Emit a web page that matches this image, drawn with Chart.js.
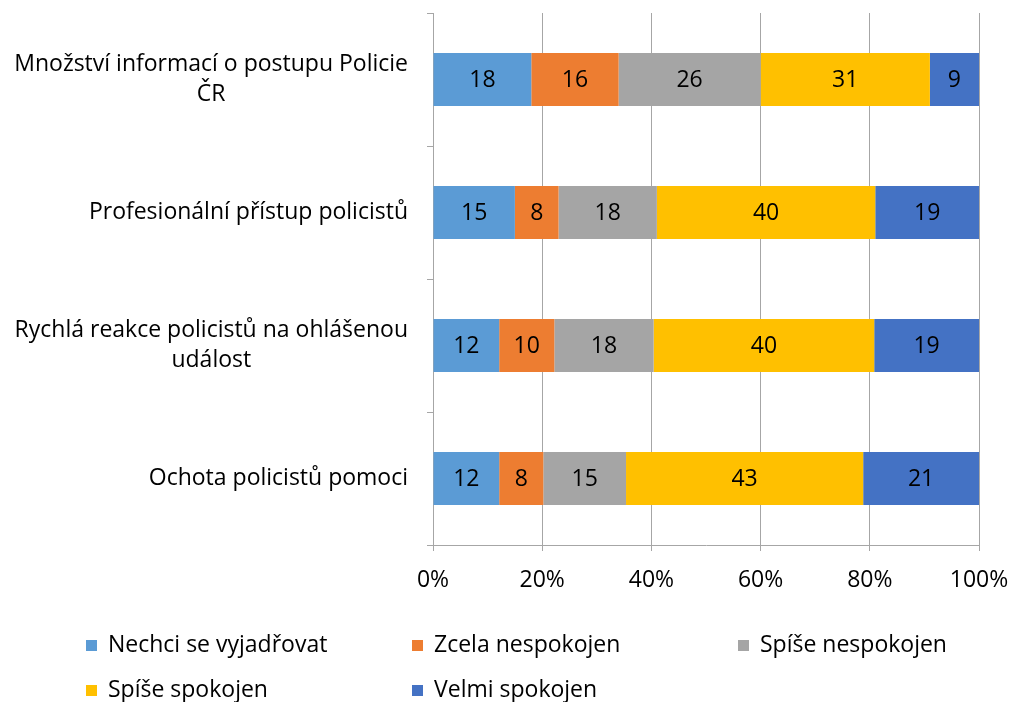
<!DOCTYPE html>
<html>
<head>
<meta charset="utf-8">
<script src="https://cdn.jsdelivr.net/npm/chart.js@4/dist/chart.umd.min.js"></script>
<style>
  html, body { margin: 0; padding: 0; background: #fff; }
  #wrap { width: 1011px; height: 702px; }
</style>
</head>
<body>
<div id="wrap"><canvas id="myChart" width="1011" height="702"></canvas></div>
<script>
// categories, top to bottom
const categories = [
    ['Množství informací o postupu Policie', 'ČR'],
    ['Profesionální přístup policistů'],
    ['Rychlá reakce policistů na ohlášenou', 'událost'],
    ['Ochota policistů pomoci']
];

const seriesNames = ['Nechci se vyjadřovat', 'Zcela nespokojen', 'Spíše nespokojen', 'Spíše spokojen', 'Velmi spokojen'];
const seriesColors = ['#5B9BD5', '#ED7D31', '#A5A5A5', '#FFC000', '#4472C4'];

// values as shown in the bars
const nechci = [18, 15, 12, 12];
const zcelaNespokojen = [16, 8, 10, 8];
const spiseNespokojen = [26, 18, 18, 15];
const spiseSpokojen = [31, 40, 40, 43];
const velmiSpokojen = [9, 19, 19, 21];

const tickValues = [0, 20, 40, 60, 80, 100];

const FONT = '"Open Sans", "Noto Sans", sans-serif';
const FONT_SIZE = 23;

const allSeries = [nechci, zcelaNespokojen, spiseNespokojen, spiseSpokojen, velmiSpokojen];
// 100% stacked: share of each row total
const totals = categories.map((c, i) => allSeries.reduce((s, arr) => s + arr[i], 0));

const datasets = allSeries.map((arr, k) => ({
    label: seriesNames[k],
    data: arr.map((v, i) => v / totals[i] * 100),
    raw: arr,
    backgroundColor: seriesColors[k],
    borderWidth: 0,
    barPercentage: 0.4,
    categoryPercentage: 1.0
}));

// value labels in the middle of each segment
const valueLabels = {
    id: 'valueLabels',
    afterDatasetsDraw(chart) {
        const ctx = chart.ctx;
        ctx.save();
        ctx.font = FONT_SIZE + 'px ' + FONT;
        ctx.fillStyle = '#000';
        ctx.textAlign = 'center';
        ctx.textBaseline = 'middle';
        chart.data.datasets.forEach((ds, k) => {
            chart.getDatasetMeta(k).data.forEach((bar, i) => {
                const p = bar.getCenterPoint();
                ctx.fillText(String(ds.raw[i]), p.x, p.y + 1);
            });
        });
        ctx.restore();
    }
};

// category labels: block right aligned, lines centred inside the block
const catLabels = {
    id: 'catLabels',
    afterDraw(chart) {
        const ctx = chart.ctx;
        const yScale = chart.scales.y;
        const rightEdge = chart.chartArea.left - 25;
        const lineH = 30;
        ctx.save();
        ctx.font = FONT_SIZE + 'px ' + FONT;
        ctx.fillStyle = '#000';
        ctx.textAlign = 'center';
        ctx.textBaseline = 'middle';
        categories.forEach((lines, i) => {
            const w = Math.max(...lines.map(l => ctx.measureText(l).width));
            const cx = rightEdge - w / 2;
            const cy = yScale.getPixelForTick(i);
            const y0 = cy - (lines.length - 1) * lineH / 2;
            lines.forEach((l, j) => ctx.fillText(l, cx, y0 + j * lineH));
        });
        ctx.restore();
    }
};

// legend laid out in three columns, two rows
const gridLegend = {
    id: 'gridLegend',
    afterDraw(chart) {
        const ctx = chart.ctx;
        const colX = [86, 412, 738];
        const rowY = [645, 690];
        ctx.save();
        ctx.font = FONT_SIZE + 'px ' + FONT;
        ctx.textAlign = 'left';
        ctx.textBaseline = 'middle';
        chart.data.datasets.forEach((ds, k) => {
            const x = colX[k % 3];
            const y = rowY[Math.floor(k / 3)];
            ctx.fillStyle = ds.backgroundColor;
            ctx.fillRect(x, y - 5, 11, 11);
            ctx.fillStyle = '#000';
            ctx.fillText(ds.label, x + 22, y);
        });
        ctx.restore();
    }
};

const ctx = document.getElementById('myChart').getContext('2d');
const myChart = new Chart(ctx, {
    type: 'bar',
    data: {
        labels: categories.map(c => c.join(' ')),
        datasets: datasets
    },
    options: {
        indexAxis: 'y',
        responsive: false,
        animation: false,
        layout: { padding: { top: 13, right: 32, left: 0, bottom: 0 } },
        plugins: {
            legend: { display: false },
            tooltip: { enabled: false }
        },
        scales: {
            x: {
                stacked: true,
                min: 0,
                max: 100,
                afterBuildTicks: (scale) => { scale.ticks = tickValues.map(v => ({ value: v })); },
                afterFit: (scale) => {
                    scale.height = 702 - 545;
                    scale.paddingRight = 0;
                    scale.paddingLeft = 0;
                },
                ticks: {
                    callback: (v) => v + '%',
                    color: '#000',
                    font: { family: FONT, size: FONT_SIZE },
                    padding: 16,
                    maxRotation: 0
                },
                grid: {
                    color: '#A6A6A6',
                    lineWidth: 1,
                    tickLength: 6,
                    drawTicks: true
                },
                border: { display: true, color: '#A6A6A6' }
            },
            y: {
                stacked: true,
                afterFit: (scale) => { scale.width = 433; },
                ticks: {
                    color: 'rgba(0,0,0,0)',
                    font: { family: FONT, size: 12 }
                },
                grid: {
                    offset: true,
                    drawOnChartArea: false,
                    color: '#A6A6A6',
                    tickLength: 6
                },
                border: { display: true, color: '#A6A6A6' }
            }
        }
    },
    plugins: [valueLabels, catLabels, gridLegend]
});
</script>
</body>
</html>
